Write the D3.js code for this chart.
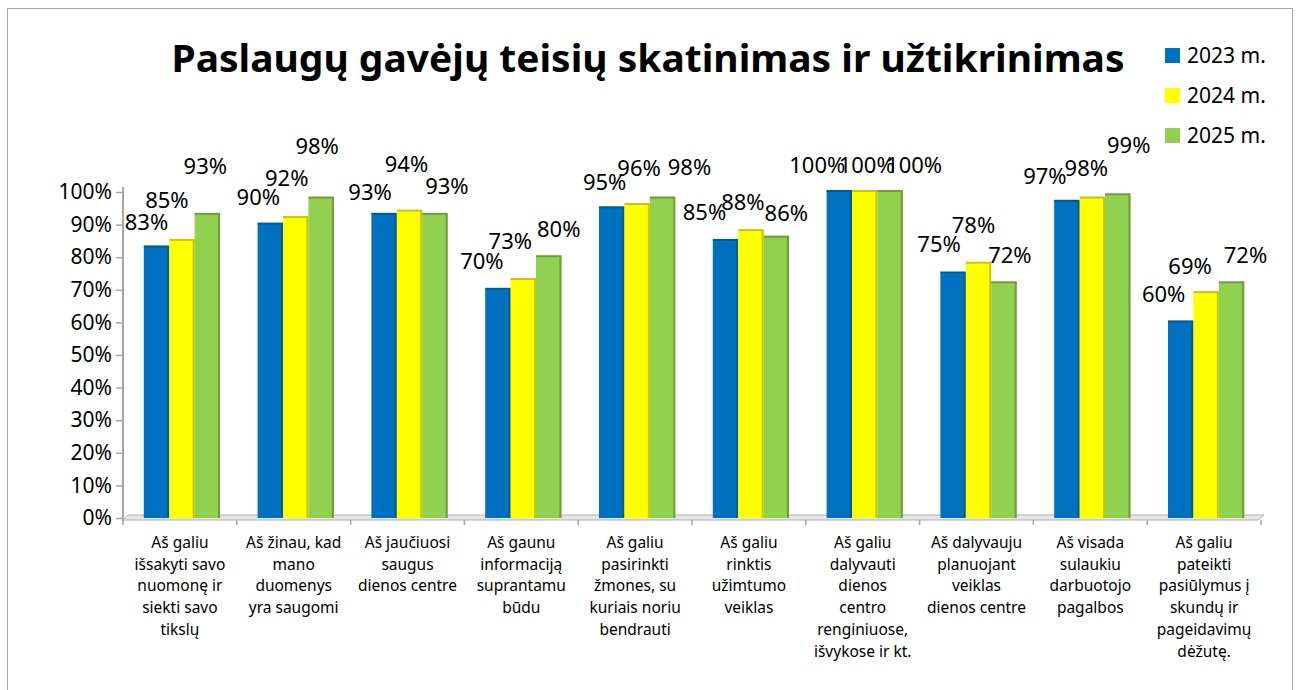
<!DOCTYPE html>
<html>
<head>
<meta charset="utf-8">
<script src="https://cdn.jsdelivr.net/npm/d3@7"></script>
<style>
  body { margin: 0; background: #fff; }
  text { font-family: "Noto Sans", "Open Sans", sans-serif; }
</style>
</head>
<body>
<svg class="chart"></svg>
<script>
// data
const categories = [
  'Aš galiu\nišsakyti savo\nnuomonę ir\nsiekti savo\ntikslų',
  'Aš žinau, kad\nmano\nduomenys\nyra saugomi',
  'Aš jaučiuosi\nsaugus\ndienos centre',
  'Aš gaunu\ninformaciją\nsuprantamu\nbūdu',
  'Aš galiu\npasirinkti\nžmones, su\nkuriais noriu\nbendrauti',
  'Aš galiu\nrinktis\nužimtumo\nveiklas',
  'Aš galiu\ndalyvauti\ndienos\ncentro\nrenginiuose,\nišvykose ir kt.',
  'Aš dalyvauju\nplanuojant\nveiklas\ndienos centre',
  'Aš visada\nsulaukiu\ndarbuotojo\npagalbos',
  'Aš galiu\npateikti\npasiūlymus į\nskundų ir\npageidavimų\ndėžutę.'
];
const seriesNames = ['2023 m.', '2024 m.', '2025 m.'];
const values2023 = [0.83, 0.90, 0.93, 0.70, 0.95, 0.85, 1.00, 0.75, 0.97, 0.60];
const values2024 = [0.85, 0.92, 0.94, 0.73, 0.96, 0.88, 1.00, 0.78, 0.98, 0.69];
const values2025 = [0.93, 0.98, 0.93, 0.80, 0.98, 0.86, 1.00, 0.72, 0.99, 0.72];
const yTicks = [0, 0.1, 0.2, 0.3, 0.4, 0.5, 0.6, 0.7, 0.8, 0.9, 1.0];
const titleText = 'Paslaugų gavėjų teisių skatinimas ir užtikrinimas';

const allValues = [values2023, values2024, values2025];
const colors = ['#0070C0', '#FFFF00', '#92D050'];
const edgeColors = ['#005A9A', '#C8C800', '#6F9E3A'];

// label placement nudges (Excel moved the labels around), [dx, dy] from bar top
const labelNudge = [
  [[-10,-25],[-12,-28],[-14,-23],[-16,-29],[-7,-26],[-21,-29],[-22,-27],[-14,-29],[-22,-26],[-17,-28]],
  [[-15,-41],[-9,-40],[-3,-47],[-13,-39],[2,-37],[-8,-29],[2,-27],[-5,-39],[-6,-30],[-16,-27]],
  [[-2,-49],[-4,-52],[12,-29],[10,-28],[27,-31],[10,-25],[24,-27],[6,-28],[11,-50],[14,-28]]
];

const svgWidth = 1297;
const svgHeight = 690;

const svg = d3.select('.chart')
  .attr('width', svgWidth)
  .attr('height', svgHeight);

// outer frame
svg.append('rect')
  .attr('x', 7.5).attr('y', 8.5)
  .attr('width', 1285).attr('height', 700)
  .attr('fill', '#fff')
  .attr('stroke', '#a6a6a6')
  .attr('stroke-width', 1);

// scales
const x0 = d3.scaleBand()
  .domain(d3.range(categories.length))
  .range([123, 1261])
  .paddingInner(0.33)
  .paddingOuter(0.165);

const x1 = d3.scaleBand()
  .domain(d3.range(seriesNames.length))
  .range([0, x0.bandwidth()]);

const yScale = d3.scaleLinear()
  .domain([0, 1])
  .range([518, 192]);

const step = x0.step();
const axisLeftX = 123;
const axisRightX = 123 + step * categories.length;

// 3D floor (thin slanted strip)
svg.append('path')
  .attr('d', `M${axisLeftX},520 L${axisRightX - 3},520 L${axisRightX + 3},515 L${axisLeftX + 5},515 Z`)
  .attr('fill', '#e6e6e6')
  .attr('stroke', '#b0b0b0')
  .attr('stroke-width', 1);

// category tick marks under the floor
svg.selectAll('.cat-tick')
  .data(d3.range(categories.length + 1))
  .enter()
  .append('line')
  .attr('x1', i => axisLeftX + i * step)
  .attr('x2', i => axisLeftX + i * step)
  .attr('y1', 520)
  .attr('y2', 525)
  .attr('stroke', '#a6a6a6')
  .attr('stroke-width', 1.5);

// y axis
const yAxisGroup = svg.append('g')
  .attr('transform', `translate(${axisLeftX},0)`)
  .call(d3.axisLeft(yScale).tickValues(yTicks).tickFormat(d3.format('.0%')).tickSize(7).tickPadding(4));

yAxisGroup.select('.domain').remove();
yAxisGroup.selectAll('line').attr('stroke', '#a6a6a6').attr('stroke-width', 1.5);
yAxisGroup.selectAll('text')
  .attr('font-size', '21px')
  .attr('fill', '#000')
  .style('font-family', '"Noto Sans", sans-serif');

yAxisGroup.append('line')
  .attr('x1', 0).attr('x2', 0)
  .attr('y1', 187).attr('y2', 521)
  .attr('stroke', '#a6a6a6')
  .attr('stroke-width', 2);

// bars
const groups = svg.selectAll('.grp')
  .data(categories.map((c, i) => i))
  .enter()
  .append('g')
  .attr('transform', i => `translate(${x0(i) + 2},0)`);

seriesNames.forEach((s, si) => {
  const w = x1.bandwidth();
  // body
  groups.append('rect')
    .attr('x', x1(si))
    .attr('y', i => yScale(allValues[si][i]) - 1)
    .attr('width', w)
    .attr('height', i => 518 - yScale(allValues[si][i]) + 1)
    .attr('fill', colors[si]);
  // dark right edge
  groups.append('rect')
    .attr('x', x1(si) + w - 2)
    .attr('y', i => yScale(allValues[si][i]) - 1)
    .attr('width', 2)
    .attr('height', i => 518 - yScale(allValues[si][i]) + 1)
    .attr('fill', edgeColors[si]);
  // top edge
  groups.append('rect')
    .attr('x', x1(si))
    .attr('y', i => yScale(allValues[si][i]) - 2)
    .attr('width', w)
    .attr('height', 2)
    .attr('fill', edgeColors[si]);
});

// value labels
seriesNames.forEach((s, si) => {
  svg.selectAll('.lbl' + si)
    .data(categories.map((c, i) => i))
    .enter()
    .append('text')
    .attr('x', i => x0(i) + 2 + x1(si) + x1.bandwidth() / 2 + labelNudge[si][i][0])
    .attr('y', i => yScale(allValues[si][i]) + labelNudge[si][i][1])
    .attr('dy', '0.36em')
    .attr('text-anchor', 'middle')
    .attr('font-size', '22px')
    .attr('fill', '#000')
    .text(i => d3.format('.0%')(allValues[si][i]));
});

// category labels
const catLabels = svg.selectAll('.cat-label')
  .data(categories)
  .enter()
  .append('text')
  .attr('text-anchor', 'middle')
  .attr('font-size', '15.5px')
  .attr('fill', '#000');

catLabels.each(function (d, i) {
  const cx = axisLeftX + (i + 0.5) * step;
  d.split('\n').forEach((line, li) => {
    d3.select(this).append('tspan')
      .attr('x', cx)
      .attr('y', 548 + li * 21.7)
      .text(line);
  });
});

// title
svg.append('text')
  .attr('x', 648)
  .attr('y', 72)
  .attr('text-anchor', 'middle')
  .attr('font-size', '38px')
  .attr('font-weight', 'bold')
  .attr('textLength', 953)
  .attr('lengthAdjust', 'spacingAndGlyphs')
  .attr('fill', '#000')
  .text(titleText);

// legend
const legend = svg.append('g');
seriesNames.forEach((s, si) => {
  legend.append('rect')
    .attr('x', 1165)
    .attr('y', 48 + si * 40)
    .attr('width', 15)
    .attr('height', 15)
    .attr('fill', colors[si]);
  legend.append('text')
    .attr('x', 1187)
    .attr('y', 55 + si * 40)
    .attr('dy', '0.36em')
    .attr('font-size', '21px')
    .attr('fill', '#000')
    .text(s);
});
</script>
</body>
</html>
